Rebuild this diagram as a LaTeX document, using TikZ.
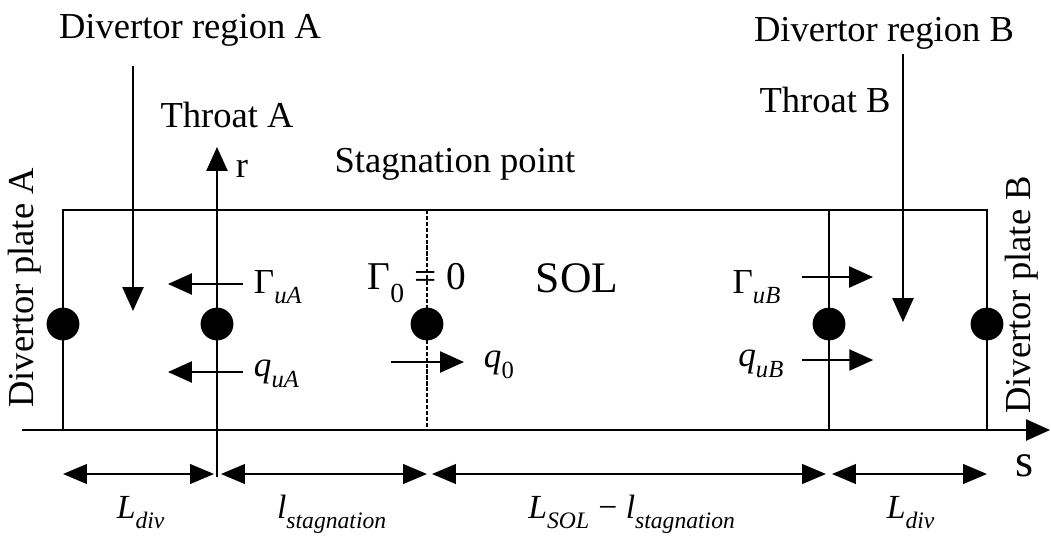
\documentclass[tikz,border=0pt]{standalone}
\usepackage{fontspec}
\setmainfont{Liberation Serif}
\usetikzlibrary{arrows.meta, positioning, calc}
\tikzset{
  every picture/.style={line width=1.4pt},
  txt/.style={font=\fontsize{26}{30}\selectfont, inner sep=0pt},
  sym/.style={font=\fontsize{25}{30}\selectfont, inner sep=0pt},
  dimtxt/.style={font=\fontsize{24}{28}\selectfont, inner sep=0pt, anchor=base},
  tip/.style={-{Triangle[length=17pt, width=15pt]}},
  dim/.style={{Triangle[length=17pt, width=14pt]}-{Triangle[length=17pt, width=14pt]}},
  plate/.style={circle, fill=black, minimum size=0.82cm, inner sep=0pt},
  stagline/.style={line width=0.8pt, dash pattern=on 3pt off 1.2pt},
}
\newcommand{\symsub}[2]{#1\raisebox{-0.15em}{\textsubscript{#2}}}

\begin{document}
\begin{tikzpicture}[x=0.025cm, y=-0.025cm]
  \useasboundingbox (0,0) rectangle (1051,542);
  % SOL box, axes and guide lines
  \coordinate (cA) at (63,210);  \coordinate (bA) at (63,430);
  \coordinate (cB) at (987,210); \coordinate (bB) at (987,430);
  \coordinate (s0) at (22,430);  \coordinate (s1) at (1050,430);
  \coordinate (r0) at (217,477); \coordinate (r1) at (217,147);
  \coordinate (st0) at (427,210); \coordinate (st1) at (427,430);
  \coordinate (tB0) at (829,210); \coordinate (tB1) at (829,430);
  \coordinate (dA0) at (133,66);  \coordinate (dA1) at (133,311);
  \coordinate (dB0) at (903,54);  \coordinate (dB1) at (903,322);
  \draw (bA) -- (cA) -- (cB) -- (bB);
  \draw[tip] (s0) -- (s1);
  \draw[tip] (r0) -- (r1);
  \draw (tB0) -- (tB1);
  \draw[stagline] (st0) -- (st1);
  \draw[tip] (dA0) -- (dA1);
  \draw[tip] (dB0) -- (dB1);
  \foreach \n/\x in {pA/63, thA/217, st/427, thB/829, pB/987}
    \node[plate] (\n) at (\x,324) {};

  \node[txt] (regA) at (190,30) {Divertor region A};
  \node[txt] (regB) at (884,33) {Divertor region B};
  \node[txt] (throatA) at (227,115) {Throat A};
  \node[txt] (throatB) at (825,100) {Throat B};
  \node[txt] (stagpt) at (455,164) {Stagnation point};
  \node[txt] (raxis) at (242,169) {r};
  \node[txt, font=\fontsize{33}{36}\selectfont] (saxis) at (1025,466) {s};
  \node[txt, rotate=90] (plateA) at (25,288) {Divertor plate A};
  \node[txt, rotate=90] (plateB) at (1022,295) {Divertor plate B};
  \node[txt, font=\fontsize{31}{34}\selectfont] (sol) at (577,278) {SOL};

  % fluxes at the throats and the stagnation point
  \node[sym, anchor=west] (GuA) at (253,287) {\symsub{Γ}{\textit{uA}}};
  \node[sym, anchor=west] (quA) at (253,374) {\symsub{\textit{q}}{\textit{uA}}};
  \node[sym, font=\fontsize{28}{32}\selectfont] (G0) at (417,283) {\symsub{Γ}{0} = 0};
  \node[sym, anchor=west] (q0) at (483,365) {\symsub{\textit{q}}{0}};
  \node[sym, anchor=east] (GuB) at (782,287) {\symsub{Γ}{\textit{uB}}};
  \node[sym, anchor=east] (quB) at (785,364) {\symsub{\textit{q}}{\textit{uB}}};
  \draw[tip] ([xshift=-0.25cm]GuA.west) ++(0,-3) -- ++(-75,0);
  \draw[tip] ([xshift=-0.25cm]quA.west) ++(0,-2) -- ++(-75,0);
  \draw[tip] ([xshift=-2.3cm]q0.west) ++(0,-3) -- ++(73,0);
  \draw[tip] ([xshift=0.5cm]GuB.east) ++(0,-10) -- ++(71,0);
  \draw[tip] ([xshift=0.43cm]quB.east) ++(0,-4) -- ++(71,0);

  % lengths along s
  \foreach \a/\b [count=\i] in {63/214, 221/427, 432/826, 832/987} {
    \coordinate (dl\i) at (\a,474);
    \coordinate (dr\i) at (\b,474);
    \draw[dim] (dl\i) -- (dr\i);
  }
  \node[dimtxt] (Ldiv1) at (141,518) {\symsub{\textit{L}}{\textit{div}}};
  \node[dimtxt] (lstag) at (332,518) {\symsub{\textit{l}}{\textit{stagnation}}};
  \node[dimtxt] (Lsol) at (632,518) {\symsub{\textit{L}}{\textit{SOL}} − \symsub{\textit{l}}{\textit{stagnation}}};
  \node[dimtxt] (Ldiv2) at (911,518) {\symsub{\textit{L}}{\textit{div}}};
\end{tikzpicture}
\end{document}
